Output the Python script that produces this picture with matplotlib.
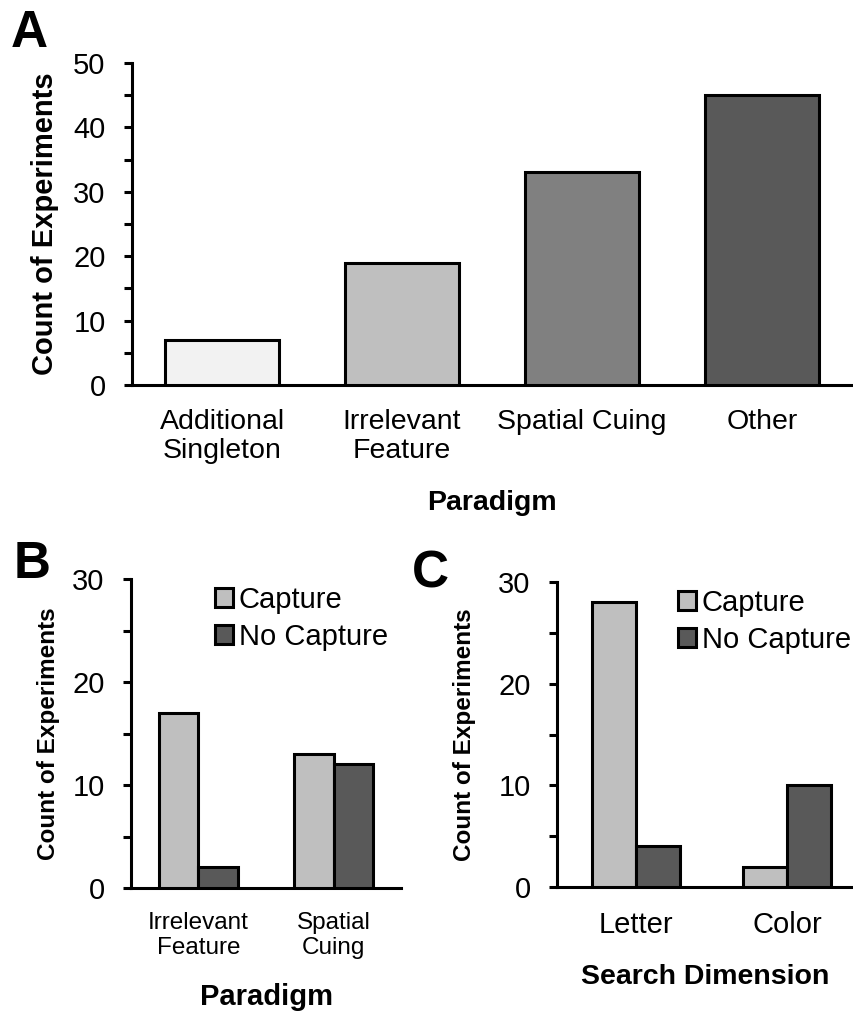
import matplotlib.pyplot as plt
from matplotlib.ticker import MultipleLocator
import numpy as np

plt.rcParams['font.family'] = ['Liberation Sans', 'DejaVu Sans']

# panel A: experiments per paradigm
paradigms = ['Additional\nSingleton', 'Irrelevant\nFeature', 'Spatial Cuing', 'Other']
paradigm_counts = [7, 19, 33, 45]
paradigm_colors = ['#f2f2f2', '#bfbfbf', '#808080', '#595959']

# panel B: capture vs no capture by paradigm
b_groups = ['Irrelevant\nFeature', 'Spatial\nCuing']
b_capture = [17, 13]
b_no_capture = [2, 12]

# panel C: capture vs no capture by search dimension
c_groups = ['Letter', 'Color']
c_capture = [28, 2]
c_no_capture = [4, 10]

series_names = ['Capture', 'No Capture']
series_colors = ['#bfbfbf', '#595959']

W, H = 854, 1011
fig = plt.figure(figsize=(W / 100, H / 100), dpi=100)


def px_axes(left, top, right, bottom):
    return fig.add_axes([left / W, 1 - bottom / H, (right - left) / W, (bottom - top) / H])


def style(ax, ymax, tick_fs):
    for s in ['top', 'right']:
        ax.spines[s].set_visible(False)
    for s in ['left', 'bottom']:
        ax.spines[s].set_linewidth(2.2)
    ax.set_ylim(0, ymax)
    ax.yaxis.set_major_locator(MultipleLocator(10))
    ax.yaxis.set_minor_locator(MultipleLocator(5))
    ax.tick_params(axis='y', which='both', direction='out', length=6, width=2.2,
                   pad=13, labelsize=tick_fs)
    ax.tick_params(axis='x', length=0, pad=17)


lw = 2.2

# ---- A ----
axA = px_axes(132, 63, 852, 385)
xa = np.arange(len(paradigms))
axA.bar(xa, paradigm_counts, width=0.63, color=paradigm_colors, edgecolor='black',
        linewidth=lw, zorder=3)
axA.set_xlim(-0.5, len(paradigms) - 0.5)
style(axA, 50, 21)
axA.set_xticks(xa)
axA.set_xticklabels(paradigms, fontsize=20.5, linespacing=1.15)
axA.set_ylabel('Count of Experiments', fontsize=21, fontweight='bold', labelpad=10)
axA.set_xlabel('Paradigm', fontsize=20.5, fontweight='bold', labelpad=19)

# ---- B ----
axB = px_axes(131, 579, 401, 888)
xb = np.arange(len(b_groups))
bw = 0.29
hb = []
for vals, off, col, name in zip([b_capture, b_no_capture], [-bw / 2, bw / 2],
                                series_colors, series_names):
    hb.append(axB.bar(xb + off, vals, width=bw, color=col, edgecolor='black',
                      linewidth=lw, label=name, zorder=3))
axB.set_xlim(-0.5, 1.5)
style(axB, 30, 21)
axB.set_xticks(xb)
axB.set_xticklabels(b_groups, fontsize=17.5, linespacing=1.2)
axB.set_ylabel('Count of Experiments', fontsize=17.5, fontweight='bold', labelpad=9)
axB.set_xlabel('Paradigm', fontsize=21, fontweight='bold', labelpad=17)
axB.legend(handles=hb, loc='upper left', bbox_to_anchor=(215 / W, 1 - 586 / H),
           bbox_transform=fig.transFigure, frameon=False, fontsize=21,
           borderpad=0, borderaxespad=0, handlelength=0.62, handleheight=0.62,
           handletextpad=0.2, labelspacing=0.3)

# ---- C ----
axC = px_axes(557, 582, 854, 887)
xc = np.arange(len(c_groups))
hc = []
for vals, off, col, name in zip([c_capture, c_no_capture], [-bw / 2, bw / 2],
                                series_colors, series_names):
    hc.append(axC.bar(xc + off, vals, width=bw, color=col, edgecolor='black',
                      linewidth=lw, label=name, zorder=3))
axC.set_xlim(-0.523, 1.444)
style(axC, 30, 21)
axC.set_xticks(xc)
axC.set_xticklabels(c_groups, fontsize=21)
axC.set_ylabel('Count of Experiments', fontsize=17.5, fontweight='bold', labelpad=16)
axC.set_xlabel('Search Dimension', fontsize=20.5, fontweight='bold', labelpad=18)
axC.legend(handles=hc, loc='upper left', bbox_to_anchor=(678 / W, 1 - 589 / H),
           bbox_transform=fig.transFigure, frameon=False, fontsize=21,
           borderpad=0, borderaxespad=0, handlelength=0.62, handleheight=0.62,
           handletextpad=0.2, labelspacing=0.3)

# panel letters
for letter, x, y in [('A', 11, 47), ('B', 14, 578), ('C', 412, 588)]:
    fig.text(x / W, 1 - y / H, letter, fontsize=37, fontweight='bold',
             ha='left', va='baseline')

fig.savefig('out.png', dpi=100)
